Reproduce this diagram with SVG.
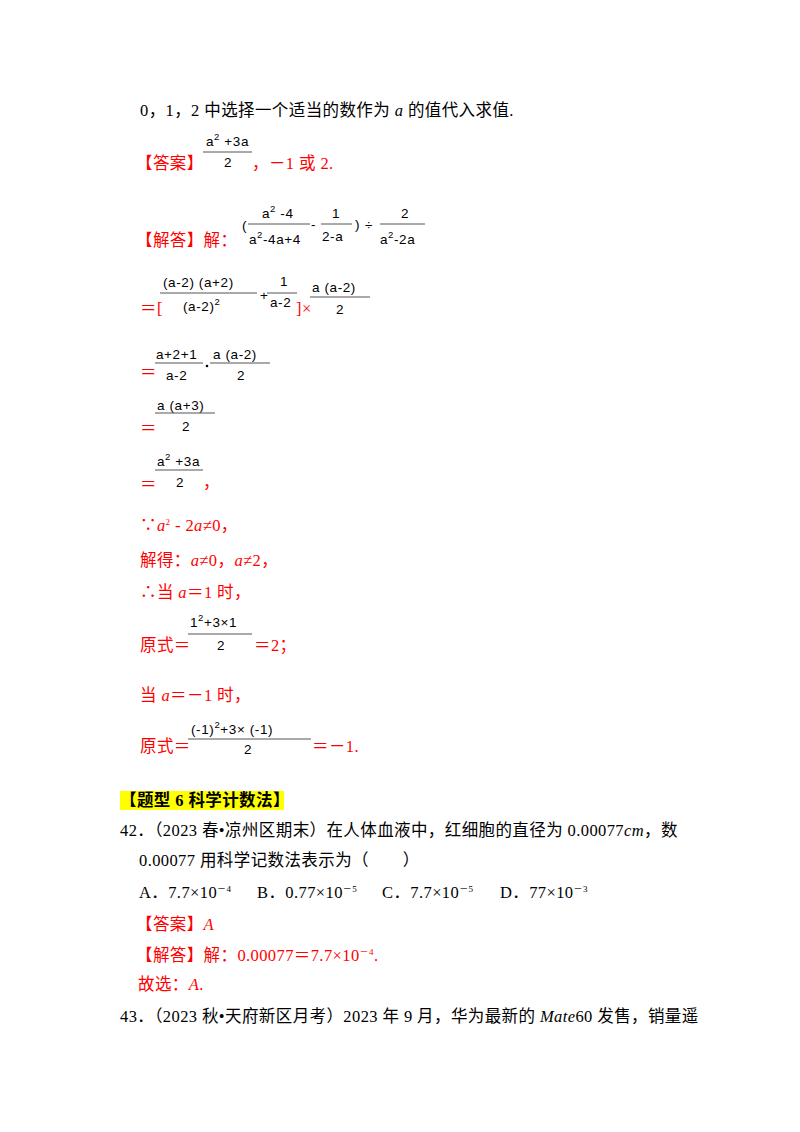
<svg xmlns="http://www.w3.org/2000/svg" width="800" height="1132" viewBox="0 0 800 1132">
<style>
text{font-family:"Liberation Serif","Noto Sans CJK SC",serif;font-size:16.5px;letter-spacing:0.4px;fill:#000}
.r{fill:#f00}
.m{font-family:"Liberation Sans","DejaVu Sans",sans-serif;font-size:13.5px;letter-spacing:0.6px;fill:#000}
.i{font-style:italic}
.b{font-weight:bold}
.s{font-size:9.5px}
line{stroke:#555;stroke-width:1}
</style>
<rect width="800" height="1132" fill="#fff"/>
<text x="140" y="116">0，1，2 中选择一个适当的数作为 <tspan class="i">a</tspan> 的值代入求值.</text>
<text x="136" y="169" class="r">【答案】</text>
<text x="206" y="146" class="m">a<tspan dy="-6" class="s">2</tspan><tspan dy="6"> +3a</tspan></text>
<line x1="203" y1="152" x2="252" y2="152"/>
<text x="224" y="167" class="m">2</text>
<text x="252" y="169" class="r">，－1 或 2.</text>
<text x="136" y="246" class="r">【解答】解：</text>
<text x="242" y="230" class="m">(</text>
<text x="262" y="218" class="m">a<tspan dy="-6" class="s">2</tspan><tspan dy="6"> -4</tspan></text>
<line x1="248" y1="224" x2="310" y2="224"/>
<text x="249" y="244" class="m">a<tspan dy="-6" class="s">2</tspan><tspan dy="6">-4a+4</tspan></text>
<text x="311" y="229" class="m">-</text>
<text x="332" y="218" class="m">1</text>
<line x1="321" y1="224" x2="352" y2="224"/>
<text x="322" y="241" class="m">2-a</text>
<text x="355" y="229" class="m">)</text>
<text x="365" y="230" class="m">÷</text>
<text x="401" y="218" class="m">2</text>
<line x1="380" y1="224" x2="425" y2="224"/>
<text x="380" y="244" class="m">a<tspan dy="-6" class="s">2</tspan><tspan dy="6">-2a</tspan></text>
<text x="140" y="314" class="r">＝[</text>
<text x="163" y="287" class="m">(a-2) (a+2)</text>
<line x1="160" y1="293" x2="257" y2="293"/>
<text x="183" y="311" class="m">(a-2)<tspan dy="-6" class="s">2</tspan></text>
<text x="260" y="300" class="m">+</text>
<text x="280" y="286" class="m">1</text>
<line x1="267" y1="293" x2="297" y2="293"/>
<text x="270" y="307" class="m">a-2</text>
<text x="296" y="314" class="r">]×</text>
<text x="312" y="292" class="m">a (a-2)</text>
<line x1="310" y1="297" x2="370" y2="297"/>
<text x="336" y="314" class="m">2</text>
<text x="140" y="378" class="r">＝</text>
<text x="156" y="359" class="m">a+2+1</text>
<line x1="155" y1="363" x2="203" y2="363"/>
<text x="166" y="380" class="m">a-2</text>
<circle cx="207" cy="366" r="1.3" fill="#000"/>
<text x="213" y="359" class="m">a (a-2)</text>
<line x1="210" y1="363" x2="270" y2="363"/>
<text x="237" y="380" class="m">2</text>
<text x="140" y="434" class="r">＝</text>
<text x="157" y="410" class="m">a (a+3)</text>
<line x1="155" y1="413" x2="215" y2="413"/>
<text x="182" y="431" class="m">2</text>
<text x="140" y="490" class="r">＝</text>
<text x="157" y="466" class="m">a<tspan dy="-6" class="s">2</tspan><tspan dy="6"> +3a</tspan></text>
<line x1="155" y1="470" x2="203" y2="470"/>
<text x="176" y="487" class="m">2</text>
<text x="203" y="488" class="r">，</text>
<text x="140" y="531" class="r">∵<tspan class="i">a</tspan><tspan dy="-6" font-size="9">2</tspan><tspan dy="6"> - 2</tspan><tspan class="i">a</tspan>≠0，</text>
<text x="140" y="566" class="r">解得：<tspan class="i">a</tspan>≠0，<tspan class="i">a</tspan>≠2，</text>
<text x="140" y="598" class="r">∴当 <tspan class="i">a</tspan>＝1 时，</text>
<text x="140" y="651" class="r">原式＝</text>
<text x="190" y="627" class="m">1<tspan dy="-6" class="s">2</tspan><tspan dy="6">+3×1</tspan></text>
<line x1="188" y1="634" x2="252" y2="634"/>
<text x="217" y="650" class="m">2</text>
<text x="254" y="651" class="r">＝2；</text>
<text x="140" y="701" class="r">当 <tspan class="i">a</tspan>＝－1 时，</text>
<text x="140" y="752" class="r">原式＝</text>
<text x="191" y="734" class="m">(-1)<tspan dy="-6" class="s">2</tspan><tspan dy="6">+3× (-1)</tspan></text>
<line x1="188" y1="739" x2="311" y2="739"/>
<text x="244" y="754" class="m">2</text>
<text x="312" y="752" class="r">＝－1.</text>
<rect x="120" y="791" width="164" height="19" fill="#ff0"/>
<text x="120" y="806" class="b" font-size="15.5" letter-spacing="0.5">【题型 6  科学计数法】</text>
<text x="120" y="836">42．（2023 春•凉州区期末）在人体血液中，红细胞的直径为 0.00077<tspan class="i">cm</tspan>，数</text>
<text x="139" y="866">0.00077 用科学记数法表示为（　　）</text>
<text x="139" y="898">A．7.7×10<tspan dy="-6" font-size="9">－4</tspan></text>
<text x="257" y="898">B．0.77×10<tspan dy="-6" font-size="9">－5</tspan></text>
<text x="382" y="898">C．7.7×10<tspan dy="-6" font-size="9">－5</tspan></text>
<text x="500" y="898">D．77×10<tspan dy="-6" font-size="9">－3</tspan></text>
<text x="136" y="930" class="r">【答案】<tspan class="i">A</tspan></text>
<text x="136" y="961" class="r">【解答】解：0.00077＝7.7×10<tspan dy="-6" font-size="9">－4</tspan><tspan dy="6">.</tspan></text>
<text x="138" y="990" class="r">故选：<tspan class="i">A</tspan>.</text>
<text x="120" y="1022">43．（2023 秋•天府新区月考）2023 年 9 月，华为最新的 <tspan class="i">Mate</tspan>60 发售，销量遥</text>
</svg>
